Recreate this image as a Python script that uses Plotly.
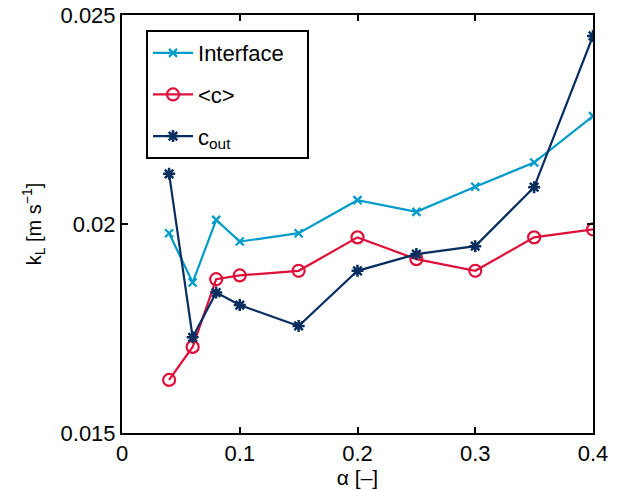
import plotly.graph_objects as go

alpha = [0.04, 0.06, 0.08, 0.10, 0.15, 0.20, 0.25, 0.30, 0.35, 0.40]
k_interface = [0.01978, 0.01860, 0.02010, 0.01958, 0.01978, 0.02057, 0.02029, 0.02089, 0.02147, 0.02258]
k_mean_c = [0.01627, 0.01706, 0.01868, 0.01877, 0.01888, 0.01968, 0.01916, 0.01888, 0.01968, 0.01987]
k_c_out = [0.02120, 0.01729, 0.01836, 0.01806, 0.01756, 0.01888, 0.01928, 0.01947, 0.02088, 0.02450]

x_ticks = [0, 0.1, 0.2, 0.3, 0.4]
x_ticklabels = ["0", "0.1", "0.2", "0.3", "0.4"]
y_ticks = [0.015, 0.02, 0.025]
y_ticklabels = ["0.015", "0.02", "0.025"]

c_blue = "rgb(0,155,200)"
c_red = "rgb(222,16,58)"
c_navy = "rgb(8,45,95)"

font = "Liberation Sans, Arial, Helvetica, sans-serif"

fig = go.Figure()
fig.add_trace(go.Scatter(
    x=alpha, y=k_interface, mode="lines+markers", name="Interface&nbsp;&nbsp;&nbsp;",
    legendgroup="a",
    line=dict(color=c_blue, width=2.2),
    marker=dict(symbol="x-thin-open", size=8, color=c_blue, line=dict(color=c_blue, width=2.3)),
))
fig.add_trace(go.Scatter(
    x=alpha, y=k_mean_c, mode="lines+markers", name="&lt;c&gt;",
    legendgroup="b",
    line=dict(color=c_red, width=2.2),
    marker=dict(symbol="circle-open", size=12, color=c_red, line=dict(color=c_red, width=2.2)),
))
fig.add_trace(go.Scatter(
    x=alpha, y=k_c_out, mode="lines+markers", name="c<sub>out</sub>",
    legendgroup="c",
    line=dict(color=c_navy, width=2.2),
    marker=dict(symbol="asterisk-open", size=10, color=c_navy, line=dict(color=c_navy, width=2.5)),
))

axis_common = dict(
    showline=True, linecolor="black", linewidth=2, mirror="ticks",
    ticks="inside", ticklen=6, tickwidth=1.5, tickcolor="black",
    showgrid=False, zeroline=False, automargin=False,
    tickfont=dict(family=font, size=22, color="black"),
)

fig.update_xaxes(
    range=[0, 0.4], tickvals=x_ticks, ticktext=x_ticklabels,
    title=dict(text="α [–]", font=dict(family=font, size=21, color="black"), standoff=4),
    **axis_common,
)
fig.update_yaxes(
    range=[0.015, 0.025], tickvals=y_ticks, ticktext=y_ticklabels,
    title=dict(text="k<sub>L</sub> [m s<sup>−1</sup>]", font=dict(family=font, size=20, color="black"), standoff=14),
    **axis_common,
)

fig.update_layout(
    width=621, height=491,
    margin=dict(l=122, r=28, t=15, b=58),
    paper_bgcolor="white", plot_bgcolor="white",
    font=dict(family=font, size=22, color="black"),
    showlegend=True,
    legend=dict(
        x=0.051, y=0.964, xanchor="left", yanchor="top",
        bgcolor="white", bordercolor="black", borderwidth=2,
        font=dict(family=font, size=22, color="black"),
        itemwidth=40, tracegroupgap=10,
    ),
)

fig.write_html("out.html")
